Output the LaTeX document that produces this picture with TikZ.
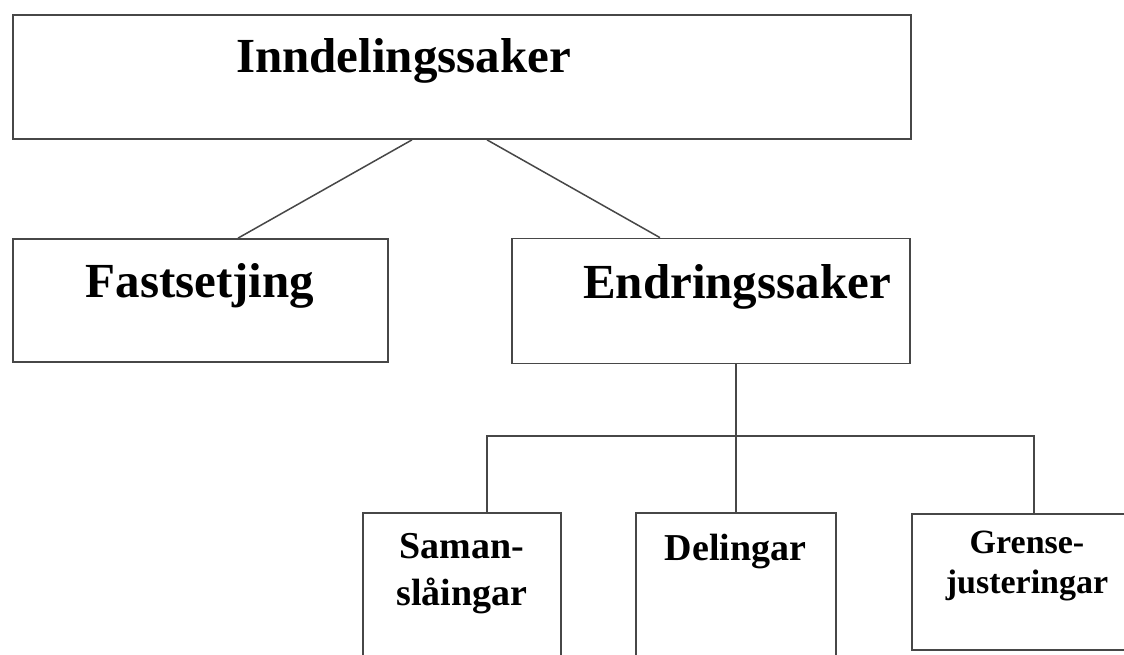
\documentclass[tikz,border=0pt]{standalone}
\usepackage{fontspec}
\setmainfont{Liberation Serif}
\usetikzlibrary{calc}
\tikzset{
  box/.style={draw=black!72, line width=1.7pt, rectangle, inner sep=0pt},
  conn/.style={draw=black!72, line width=1.5pt},
  bigtxt/.style={anchor=base, inner sep=0pt, font=\bfseries\fontsize{49}{58}\selectfont},
  smalltxt/.style={anchor=base, inner sep=0pt, align=center, font=\bfseries\fontsize{38}{47}\selectfont},
  gtxt/.style={anchor=base, inner sep=0pt, align=center, font=\bfseries\fontsize{34}{40}\selectfont}
}
\begin{document}
\begin{tikzpicture}[x=1pt,y=-1pt]
\useasboundingbox (0,0) rectangle (1124,655);
\clip (0,0) rectangle (1124,655);
\fill[white] (0,0) rectangle (1124,655);
% boxes
\node[box, minimum width=898pt, minimum height=124pt] (top) at (462,77) {};
\node[box, minimum width=375pt, minimum height=123pt] (fast) at (200.5,300.5) {};
\node[box, minimum width=398pt, minimum height=125pt] (endr) at (711,301) {};
\node[box, minimum width=198pt, minimum height=160pt] (saman) at (462,593) {};
\node[box, minimum width=200pt, minimum height=160pt] (deling) at (736,593) {};
\node[box, minimum width=218pt, minimum height=136pt] (grense) at (1021,582) {};
% texts
\node[bigtxt] (topT) at (403.5,73) {Inndelingssaker};
\node[bigtxt] (fastT) at (200,297) {Fastsetjing};
\node[bigtxt] (endrT) at (737,298) {Endringssaker};
\node[smalltxt] (samanT) at (462,605) {Saman-\\slåingar};
\node[smalltxt] (delingT) at (735.5,560) {Delingar};
\node[gtxt] (grenseT) at (1027,593) {Grense-\\justeringar};
% connectors
\draw[conn] ($(top.south)+(-50,0)$) -- ($(fast.north)+(37.5,0)$);
\draw[conn] ($(top.south)+(25,0)$) -- ($(endr.north)+(-51,0)$);
\draw[conn] ($(endr.south)+(25,0)$) -- (deling.north);
\draw[conn] ($(saman.north)+(25,0)$) -- ++(0,-76) -| ($(grense.north)+(13,0)$);
\end{tikzpicture}
\end{document}
